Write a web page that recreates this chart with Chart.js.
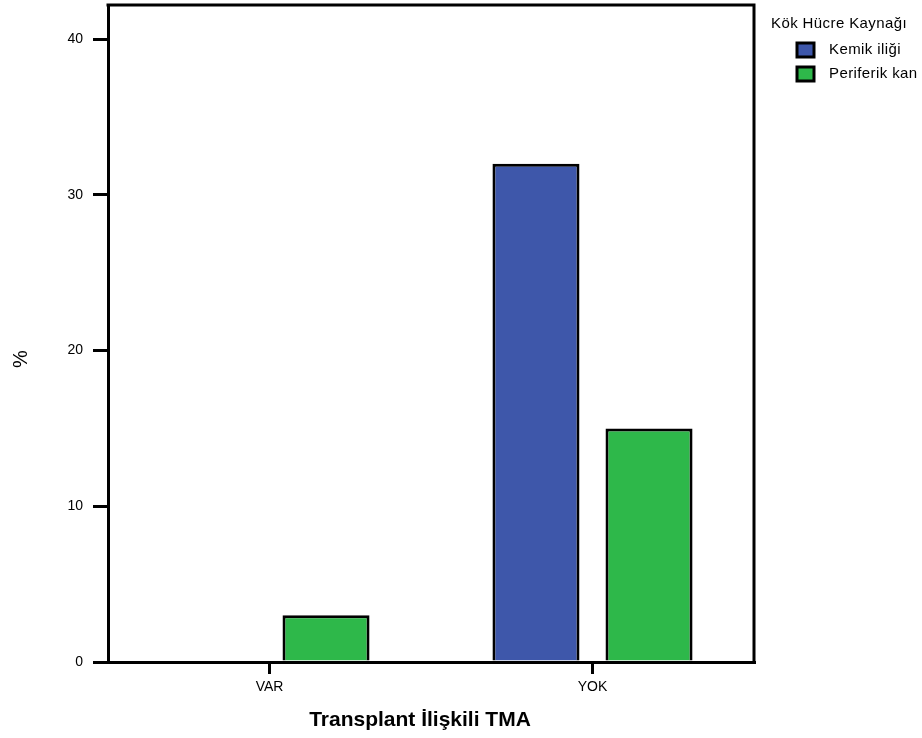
<!DOCTYPE html>
<html>
<head>
<meta charset="utf-8">
<script src="https://cdn.jsdelivr.net/npm/chart.js@4/dist/chart.umd.min.js"></script>
<style>
    html, body { margin: 0; padding: 0; background: #fff; }
    #wrap { width: 922px; height: 738px; }
</style>
</head>
<body>
<div id="wrap"><canvas id="tmaChart" width="922" height="738"></canvas></div>
<script>
// 資料
const categories = ['VAR', 'YOK'];
const kemikIligi = [0, 32];
const periferikKan = [3, 15];
const seriesNames = ['Kemik iliği', 'Periferik kan'];
const yTicks = [0, 10, 20, 30, 40];

const FONT = "'Liberation Sans', Arial, sans-serif";

// 外框 (上、右) + 軸標題
const framePlugin = {
    id: 'frame',
    afterDraw(chart) {
        const a = chart.chartArea;
        const ctx = chart.ctx;
        ctx.save();
        ctx.strokeStyle = '#000';
        ctx.lineWidth = 3;
        ctx.beginPath();
        ctx.moveTo(a.left - 1.5, a.top);
        ctx.lineTo(a.right, a.top);
        ctx.lineTo(a.right, a.bottom + 1.5);
        ctx.stroke();

        // x 軸標題
        ctx.fillStyle = '#000';
        ctx.textAlign = 'center';
        ctx.textBaseline = 'middle';
        ctx.font = 'bold 21px ' + FONT;
        ctx.fillText('Transplant İlişkili TMA', 420, 720);

        // y 軸標題
        ctx.translate(21, 359);
        ctx.rotate(-Math.PI / 2);
        ctx.font = '20px ' + FONT;
        ctx.fillText('%', 0, 0);
        ctx.restore();
    }
};

// 自訂圖例
const legendPlugin = {
    id: 'sideLegend',
    afterDraw(chart) {
        const ctx = chart.ctx;
        ctx.save();
        ctx.fillStyle = '#000';
        ctx.font = '15px ' + FONT;
        ctx.letterSpacing = '0.4px';
        ctx.textBaseline = 'middle';
        ctx.textAlign = 'left';
        ctx.fillText('Kök Hücre Kaynağı', 771, 24);
        chart.data.datasets.forEach((ds, i) => {
            const y = 50 + i * 24;
            ctx.fillStyle = ds.backgroundColor;
            ctx.fillRect(797, y - 7, 17, 14);
            ctx.strokeStyle = '#000';
            ctx.lineWidth = 3;
            ctx.strokeRect(797, y - 7, 17, 14);
            ctx.fillStyle = '#000';
            ctx.fillText(ds.label, 829, y);
        });
        ctx.restore();
    }
};

document.addEventListener('DOMContentLoaded', function () {
    const canvas = document.getElementById('tmaChart');
    new Chart(canvas, {
        type: 'bar',
        data: {
            labels: categories,
            datasets: [{
                label: seriesNames[0],
                data: kemikIligi,
                backgroundColor: '#3E57AA',
                borderColor: '#000',
                borderWidth: 3
            }, {
                label: seriesNames[1],
                data: periferikKan,
                backgroundColor: '#2EB84A',
                borderColor: '#000',
                borderWidth: 3
            }]
        },
        options: {
            responsive: false,
            animation: false,
            devicePixelRatio: 1,
            categoryPercentage: 0.7,
            barPercentage: 0.77,
            layout: {
                padding: { top: 5, right: 168, left: 0, bottom: 0 }
            },
            plugins: {
                legend: { display: false },
                tooltip: { enabled: false }
            },
            scales: {
                x: {
                    offset: true,
                    afterFit: function (scale) {
                        scale.height = 76;
                        scale.paddingLeft = 0;
                        scale.paddingRight = 0;
                    },
                    grid: {
                        offset: false,
                        drawOnChartArea: false,
                        color: '#000',
                        lineWidth: 3,
                        tickLength: 12
                    },
                    border: { color: '#000', width: 3 },
                    ticks: {
                        color: '#000',
                        padding: 5,
                        font: { size: 14, family: FONT }
                    }
                },
                y: {
                    min: 0,
                    max: 42.2,
                    afterFit: function (scale) {
                        scale.width = 108;
                        scale.paddingTop = 0;
                        scale.paddingBottom = 0;
                    },
                    afterBuildTicks: function (scale) {
                        scale.ticks = yTicks.map(v => ({ value: v }));
                    },
                    grid: {
                        drawOnChartArea: false,
                        color: '#000',
                        lineWidth: 3,
                        tickLength: 15
                    },
                    border: { color: '#000', width: 3 },
                    ticks: {
                        color: '#000',
                        padding: 10,
                        font: { size: 14, family: FONT }
                    }
                }
            }
        },
        plugins: [framePlugin, legendPlugin]
    });
});
</script>
</body>
</html>
